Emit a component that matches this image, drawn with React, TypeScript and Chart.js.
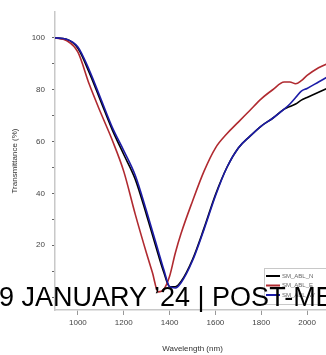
import React, { useEffect, useRef } from "react";
import { Chart, registerables } from "chart.js";

Chart.register(...registerables);

const wavelengths = [900, 950, 1000, 1050, 1100, 1150, 1200, 1250, 1300, 1325, 1350, 1375, 1400, 1425, 1450, 1500, 1550, 1600, 1650, 1700, 1750, 1800, 1850, 1900, 1925, 1950, 1975, 2000, 2050, 2100];
const seriesN = [100, 99.5, 96, 86.5, 75.5, 64.5, 55, 45.5, 31.5, 24, 16.5, 9.5, 4, 4, 6, 14.5, 26.5, 39.5, 50, 57.5, 62, 66, 69, 72.5, 73.5, 74.5, 76, 77, 79, 81];
const seriesE = [100, 99, 94.5, 82, 71, 60.5, 48.5, 32, 16.7, 9.5, 2, 3, 8, 17, 24.5, 37, 48.5, 57.5, 63, 67.5, 72, 76.5, 80, 83, 83, 82.3, 83.5, 85.5, 88.5, 90.5];
const seriesW = [100, 99.5, 96.5, 87.5, 76.5, 65.5, 56.5, 47, 33, 25.5, 18, 10.5, 4, 3.5, 5.5, 14, 26, 39, 50, 57.5, 62, 66, 69, 72.5, 74.5, 77, 79.5, 80.5, 83, 85.5];
const seriesLabels = ["SM_ABL_N", "SM_ABL_E", "SM_ABL_W"];
const seriesColors = ["#000000", "#b02a30", "#1c1ca8"];
const xTickValues = [1000, 1200, 1400, 1600, 1800, 2000];
const yTickValues = [0, 10, 20, 30, 40, 50, 60, 70, 80, 90, 100];
const yLabelValues = [20, 40, 60, 80, 100];
const xTitle = "Wavelength (nm)";
const yTitle = "Transmittance (%)";
const watermark = "9 JANUARY \u201924 | POST-MEETING";

const legendBox = {
  id: "legendBox",
  afterDatasetsDraw(chart: any) {
    const { ctx, chartArea } = chart;
    const x = chartArea.right - 66;
    const y = chartArea.bottom - 42;
    ctx.save();
    ctx.fillStyle = "#ffffff";
    ctx.strokeStyle = "#c8c8c8";
    ctx.lineWidth = 1;
    ctx.fillRect(x, y, 80, 36);
    ctx.strokeRect(x + 0.5, y + 0.5, 80, 36);
    ctx.font = "6px 'Liberation Sans'";
    ctx.textBaseline = "middle";
    chart.data.datasets.forEach((ds: any, i: number) => {
      const ly = y + 8 + i * 9.5;
      ctx.strokeStyle = ds.borderColor;
      ctx.lineWidth = 2;
      ctx.beginPath();
      ctx.moveTo(x + 2, ly);
      ctx.lineTo(x + 16, ly);
      ctx.stroke();
      ctx.fillStyle = "#666";
      ctx.fillText(ds.label, x + 18, ly);
    });
    ctx.restore();
  },
};

export default function App() {
  const ref = useRef<HTMLCanvasElement>(null);
  useEffect(() => {
    const series = [seriesN, seriesE, seriesW];
    const drawOrder = [2, 1, 0];
    const chart = new Chart(ref.current!, {
      type: "line",
      data: {
        datasets: series.map((s, i) => ({
          label: seriesLabels[i],
          data: wavelengths.map((w, j) => ({ x: w, y: s[j] })),
          borderColor: seriesColors[i],
          borderWidth: 1.6,
          pointRadius: 0,
          cubicInterpolationMode: "monotone" as const,
          order: drawOrder[i],
        })),
      },
      options: {
        animation: false,
        responsive: false,
        maintainAspectRatio: false,
        layout: { padding: { top: 12, left: 10, right: 0, bottom: 0 } },
        plugins: { legend: { display: false }, tooltip: { enabled: false } },
        scales: {
          x: {
            type: "linear",
            min: 900,
            max: 2100,
            afterBuildTicks: (axis: any) => {
              axis.ticks = xTickValues.map((v) => ({ value: v }));
            },
            afterFit: (s: any) => {
              s.height = 45;
            },
            grid: { display: true, drawOnChartArea: false, tickLength: 5, color: "#999" },
            border: { color: "#c8c8c8", width: 1.5 },
            ticks: {
              font: { family: "'Liberation Sans'", size: 8 },
              color: "#444",
              padding: 3,
              maxRotation: 0,
              callback: (v: any) => String(v),
            },
            title: { display: true, text: xTitle, font: { family: "'Liberation Sans'", size: 8 }, color: "#333", padding: { top: 0, bottom: 1 } },
          },
          y: {
            type: "linear",
            min: -5,
            max: 110,
            afterBuildTicks: (axis: any) => {
              axis.ticks = yTickValues.map((v) => ({ value: v }));
            },
            afterFit: (s: any) => {
              s.width = 45;
            },
            grid: { display: true, drawOnChartArea: false, tickLength: 3, color: "#666" },
            border: { color: "#c8c8c8", width: 1.5 },
            ticks: {
              font: { family: "'Liberation Sans'", size: 8 },
              color: "#444",
              padding: 7,
              callback: (v: any) => (yLabelValues.includes(Number(v)) ? String(v) : ""),
            },
            title: { display: true, text: yTitle, font: { family: "'Liberation Sans'", size: 8 }, color: "#333", padding: { top: 0, bottom: 0 } },
          },
        },
      },
      plugins: [legendBox],
    });
    return () => chart.destroy();
  }, []);
  return (
    <div style={{ position: "fixed", left: 0, top: 0, width: 326, height: 355, overflow: "hidden", background: "#fff" }}>
      <canvas ref={ref} width={330} height={355} style={{ display: "block", width: 330, height: 355 }} />
      <div
        style={{
          position: "absolute",
          left: -1,
          top: 284,
          fontFamily: "'Liberation Sans', Arial, sans-serif",
          fontSize: 27,
          lineHeight: "27px",
          whiteSpace: "nowrap",
          color: "#000",
        }}
      >
        {watermark}
      </div>
    </div>
  );
}
